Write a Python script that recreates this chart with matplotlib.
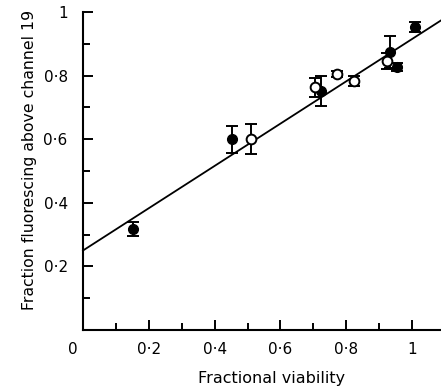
import matplotlib
matplotlib.use("Agg")
import matplotlib.pyplot as plt
import matplotlib.transforms as mtransforms
from matplotlib.ticker import FixedLocator
import numpy as np

# Filled circles: viability vs fraction fluorescing, with standard errors
filled_x = [0.153, 0.452, 0.722, 0.933, 0.955, 1.009]
filled_y = [0.317, 0.600, 0.752, 0.875, 0.828, 0.952]
filled_err = [0.022, 0.043, 0.048, 0.050, 0.012, 0.015]

# Open circles
open_x = [0.510, 0.705, 0.773, 0.824, 0.923]
open_y = [0.600, 0.763, 0.805, 0.783, 0.847]
open_err = [0.048, 0.030, 0.010, 0.015, 0.025]

# Fitted regression line
fit_intercept = 0.25
fit_slope = 0.665

x_ticks = [0, 0.2, 0.4, 0.6, 0.8, 1.0]
x_labels = ["0", "0·2", "0·4", "0·6", "0·8", "1"]
y_ticks = [0.2, 0.4, 0.6, 0.8, 1.0]
y_labels = ["0·2", "0·4", "0·6", "0·8", "1"]
minor_ticks = [0.1, 0.3, 0.5, 0.7, 0.9]

fig = plt.figure(figsize=(4.41, 3.91), dpi=100)
ax = fig.add_axes([83 / 441, (391 - 330) / 391, (441 - 83) / 441, (330 - 12) / 391])

xmax = 1.088
ax.set_xlim(0, xmax)
ax.set_ylim(0, 1.0)

xs = np.array([0, xmax])
ax.plot(xs, fit_intercept + fit_slope * xs, color="black", lw=1.3, clip_on=False, zorder=2)

ax.errorbar(filled_x, filled_y, yerr=filled_err, fmt="o", color="black",
            mfc="black", mec="black", ms=7, capsize=4.5, elinewidth=1.4,
            capthick=1.4, zorder=3)
ax.errorbar(open_x, open_y, yerr=open_err, fmt="o", color="black",
            mfc="white", mec="black", mew=1.4, ms=7, capsize=4.5,
            elinewidth=1.4, capthick=1.4, zorder=3)

for side in ["top", "right"]:
    ax.spines[side].set_visible(False)
for side in ["left", "bottom"]:
    ax.spines[side].set_linewidth(1.5)

ax.xaxis.set_major_locator(FixedLocator(x_ticks))
ax.set_xticklabels(x_labels)
ax.xaxis.set_minor_locator(FixedLocator(minor_ticks))
ax.yaxis.set_major_locator(FixedLocator(y_ticks))
ax.set_yticklabels(y_labels)
ax.yaxis.set_minor_locator(FixedLocator(minor_ticks))

ax.tick_params(which="major", direction="in", length=7, width=1.4, labelsize=11)
ax.tick_params(which="minor", direction="in", length=5, width=1.4)
ax.tick_params(axis="x", which="major", pad=9)
ax.tick_params(axis="y", which="major", pad=11)

# origin label sits slightly left of the axis corner
lbl0 = ax.get_xticklabels()[0]
lbl0.set_transform(lbl0.get_transform() +
                   mtransforms.ScaledTranslation(-10 / 100, 0, fig.dpi_scale_trans))

fig.text(272 / 441, 1 - 378 / 391, "Fractional viability", ha="center", va="center",
         fontsize=11.5)
fig.text(30 / 441, 1 - 160 / 391, "Fraction fluorescing above channel 19",
         ha="center", va="center", rotation=90, fontsize=11.3)

fig.savefig("out.png", dpi=100)
